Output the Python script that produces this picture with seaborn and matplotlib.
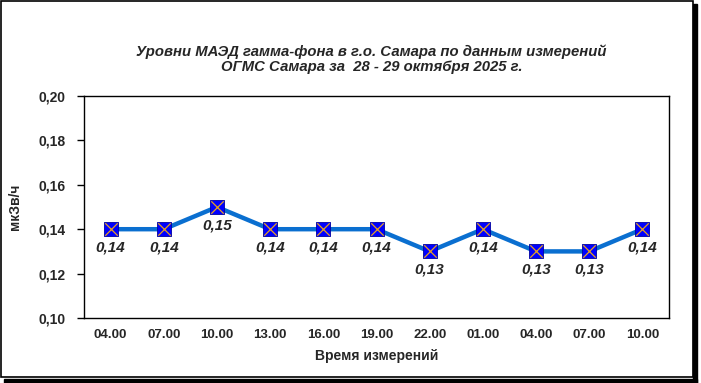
import matplotlib
matplotlib.use("Agg")
import matplotlib.pyplot as plt
from matplotlib.patches import Rectangle
import seaborn as sns
import pandas as pd

times = ["04.00", "07.00", "10.00", "13.00", "16.00", "19.00",
         "22.00", "01.00", "04.00", "07.00", "10.00"]
values = [0.14, 0.14, 0.15, 0.14, 0.14, 0.14, 0.13, 0.14, 0.13, 0.13, 0.14]
yticks = [0.10, 0.12, 0.14, 0.16, 0.18, 0.20]

df = pd.DataFrame({"pos": range(len(times)), "val": values})

sns.set_style("white")
plt.rcParams["font.family"] = ["Liberation Sans", "DejaVu Sans"]

fig = plt.figure(figsize=(7.01, 3.83), dpi=100)
ax = fig.add_axes([84 / 701, 1 - 318 / 383, 585 / 701, 222 / 383])

sns.lineplot(data=df, x="pos", y="val", ax=ax, color="#0a6fd0", lw=3.2, zorder=2)
sns.scatterplot(data=df, x="pos", y="val", ax=ax, marker="s", s=110,
                color="#0000ff", edgecolor="#0000a0", linewidth=0.6, zorder=3)
ax.scatter(df["pos"], df["val"], marker="x", s=80, color="#e8a020", lw=0.9, zorder=4)

for x, v in zip(df["pos"], df["val"]):
    ax.annotate(f"{v:.2f}".replace(".", ","), (x, v), xytext=(0, -8),
                textcoords="offset points", ha="center", va="top",
                fontsize=11, fontweight="bold", fontstyle="italic")

ax.set_xlim(-0.5, len(times) - 0.5)
ax.set_ylim(0.10, 0.20)
ax.set_xticks(range(len(times)))
ax.set_xticklabels(times, fontsize=9.5, fontweight="bold")
ax.set_yticks(yticks)
ax.set_yticklabels([f"{t:.2f}".replace(".", ",") for t in yticks],
                   fontsize=10, fontweight="bold")
ax.tick_params(axis="x", length=0, pad=8)
ax.tick_params(axis="y", left=True, length=5, width=1, color="black", pad=8)
for s in ax.spines.values():
    s.set_visible(True)
    s.set_color("black")
    s.set_linewidth(1)

ax.set_xlabel("Время измерений", fontsize=10, fontweight="bold", labelpad=6)
ax.set_ylabel("мкЗв/ч", fontsize=10, fontweight="bold", labelpad=12)

fig.text(0.53, 1 - 59 / 383, "Уровни МАЭД гамма-фона в г.о. Самара по данным измерений\n"
         "ОГМС Самара за  28 - 29 октября 2025 г.",
         ha="center", va="center", fontsize=10.7, fontweight="bold",
         fontstyle="italic", linespacing=1.1)

# figure border with shadow
W, H = 701, 383
fig.patches.append(Rectangle((4 / W, 0), 693 / W, 4 / H, transform=fig.transFigure,
                             color="black", zorder=0))
fig.patches.append(Rectangle((693 / W, 0), 4 / W, 379 / H, transform=fig.transFigure,
                             color="black", zorder=0))
fig.patches.append(Rectangle((1 / W, 6 / H), 692 / W, 376 / H, transform=fig.transFigure,
                             fill=False, edgecolor="black", lw=1.2, zorder=1))

fig.savefig("out.png", dpi=100)
